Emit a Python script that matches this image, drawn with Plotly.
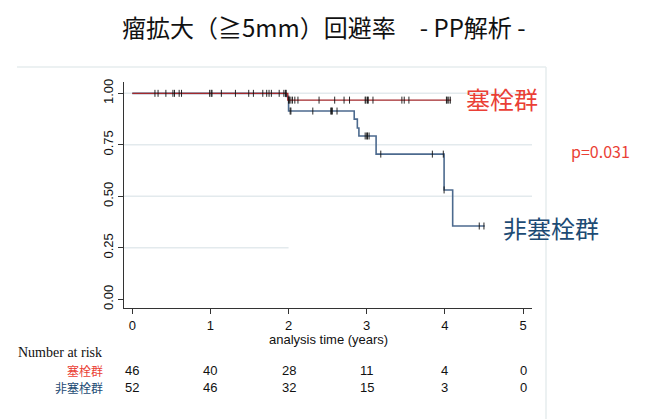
import plotly.graph_objects as go

# ---------------- data ----------------
title_text = "瘤拡大（≧5mm）回避率　- PP解析 -"
group_names = ["塞栓群", "非塞栓群"]
p_value_text = "p=0.031"

# Kaplan-Meier step points (time in years, survival)
emb_times = [0.0, 1.99, 4.08]
emb_surv = [1.0, 0.967, 0.967]

non_times = [0.0, 1.97, 2.0, 2.84, 2.88, 2.90, 3.12, 3.99, 4.10, 4.51]
non_surv = [1.0, 0.985, 0.914, 0.875, 0.832, 0.793, 0.705, 0.531, 0.356, 0.356]

# censor marks
emb_cens_t = [0.29, 0.43, 0.54, 0.63, 1.01, 1.32, 1.55, 1.72, 1.78, 1.94, 1.97,
              2.0, 2.01, 2.03, 2.05, 2.08, 2.12, 2.39, 2.59, 2.71, 2.78, 2.98,
              2.99, 3.01, 3.02, 3.08, 3.45, 3.48, 3.54, 4.02, 4.03, 4.05, 4.07]
non_cens_t = [0.33, 0.52, 0.60, 0.99, 1.02, 1.14, 1.49, 1.67, 1.75, 1.88, 1.96,
              2.02, 2.03, 2.31, 2.54, 2.55, 2.56, 2.62, 2.98, 3.00, 3.01, 3.03,
              3.18, 3.84, 3.98, 3.99, 4.44, 4.50]

x_ticks = [0, 1, 2, 3, 4, 5]
y_ticks = [0.0, 0.25, 0.5, 0.75, 1.0]
y_tick_labels = ["0.00", "0.25", "0.50", "0.75", "1.00"]
x_title = "analysis time (years)"

risk_title = "Number at risk"
risk_emb = [46, 40, 28, 11, 4, 0]
risk_non = [52, 46, 32, 15, 3, 0]

# ---------------- helpers ----------------
def surv_at(times, surv, t):
    s = surv[0]
    for ti, si in zip(times, surv):
        if ti <= t:
            s = si
    return s

W, H = 646, 419
L, R, T, B = 124, 532, 82, 308
pw, ph = R - L, B - T

def px(x):
    return (x - L) / pw

def py(y):
    return (B - y) / ph

RED_LINE = "#a3292c"
BLUE_LINE = "#4c6a8e"
RED_TXT = "#ea3f36"
BLUE_TXT = "#1d4b74"
GRID = "#e3eaed"

fig = go.Figure()

fig.add_trace(go.Scatter(x=non_times, y=non_surv, mode="lines",
                         line=dict(color=BLUE_LINE, width=1.6, shape="hv"),
                         showlegend=False, hoverinfo="skip"))
fig.add_trace(go.Scatter(x=emb_times, y=emb_surv, mode="lines",
                         line=dict(color=RED_LINE, width=1.4, shape="hv"),
                         showlegend=False, hoverinfo="skip"))

cens_marker = dict(symbol="line-ns", size=5, line=dict(color="#111", width=0.9))
fig.add_trace(go.Scatter(x=emb_cens_t, y=[surv_at(emb_times, emb_surv, t) for t in emb_cens_t],
                         mode="markers", marker=cens_marker,
                         showlegend=False, hoverinfo="skip"))
fig.add_trace(go.Scatter(x=non_cens_t, y=[surv_at(non_times, non_surv, t) for t in non_cens_t],
                         mode="markers", marker=cens_marker,
                         showlegend=False, hoverinfo="skip"))

shapes = []
# gridlines
for yv in [0.5, 0.75, 1.0]:
    shapes.append(dict(type="line", xref="paper", yref="y", x0=0, x1=1, y0=yv, y1=yv,
                       line=dict(color=GRID, width=1.5), layer="below"))
shapes.append(dict(type="line", xref="x", yref="y", x0=-0.106, x1=2.0, y0=0.25, y1=0.25,
                   line=dict(color=GRID, width=1.5), layer="below"))
# outer frame (top + right)
shapes.append(dict(type="line", xref="paper", yref="paper", x0=px(17), x1=px(546),
                   y0=py(67), y1=py(67), line=dict(color="#e6ecee", width=1.5)))
shapes.append(dict(type="line", xref="paper", yref="paper", x0=px(546), x1=px(546),
                   y0=py(67), y1=py(419), line=dict(color="#e6ecee", width=1.5)))

ann = []
ann.append(dict(text=title_text, x=px(324), y=py(26), xref="paper", yref="paper",
                showarrow=False, xanchor="center", yanchor="middle",
                font=dict(family="Noto Sans CJK JP", size=24, color="#111111")))
ann.append(dict(text=group_names[0], x=px(502), y=py(98), xref="paper", yref="paper",
                showarrow=False, xanchor="center", yanchor="middle",
                font=dict(family="Noto Sans CJK JP", size=24, color=RED_TXT)))
ann.append(dict(text=group_names[1], x=px(551), y=py(227), xref="paper", yref="paper",
                showarrow=False, xanchor="center", yanchor="middle",
                font=dict(family="Noto Sans CJK JP", size=24, color=BLUE_TXT)))
ann.append(dict(text=p_value_text, x=px(600), y=py(151), xref="paper", yref="paper",
                showarrow=False, xanchor="center", yanchor="middle",
                font=dict(family="Noto Sans CJK JP", size=16, color=RED_TXT)))
ann.append(dict(text=x_title, x=px(328), y=py(339), xref="paper", yref="paper",
                showarrow=False, xanchor="center", yanchor="middle",
                font=dict(family="Liberation Sans", size=13, color="#111111")))
ann.append(dict(text=risk_title, x=px(104), y=py(352), xref="paper", yref="paper",
                showarrow=False, xanchor="right", yanchor="middle",
                font=dict(family="Liberation Serif", size=14, color="#111111")))
ann.append(dict(text=group_names[0], x=px(105), y=py(370), xref="paper", yref="paper",
                showarrow=False, xanchor="right", yanchor="middle",
                font=dict(family="Noto Sans CJK JP", size=12, color=RED_TXT)))
ann.append(dict(text=group_names[1], x=px(105), y=py(387), xref="paper", yref="paper",
                showarrow=False, xanchor="right", yanchor="middle",
                font=dict(family="Noto Sans CJK JP", size=12, color=BLUE_TXT)))
for t, a, b in zip(x_ticks, risk_emb, risk_non):
    ann.append(dict(text=str(a), x=t, y=py(370), xref="x", yref="paper",
                    showarrow=False, xanchor="center", yanchor="middle",
                    font=dict(family="Liberation Sans", size=13, color="#111111")))
    ann.append(dict(text=str(b), x=t, y=py(387), xref="x", yref="paper",
                    showarrow=False, xanchor="center", yanchor="middle",
                    font=dict(family="Liberation Sans", size=13, color="#111111")))

fig.update_layout(
    width=W, height=H,
    margin=dict(l=L, r=W - R, t=T, b=H - B, pad=0),
    paper_bgcolor="white", plot_bgcolor="white",
    shapes=shapes, annotations=ann,
    xaxis=dict(range=[-0.106, 5.115], tickvals=x_ticks, ticks="outside", ticklen=5,
               tickwidth=1, tickcolor="#333", showline=True, linecolor="#333", linewidth=1.2,
               showgrid=False, zeroline=False,
               tickfont=dict(family="Liberation Sans", size=13, color="#111")),
    yaxis=dict(range=[-0.042, 1.055], tickvals=y_ticks, ticktext=y_tick_labels,
               tickangle=-90, ticks="outside", ticklen=5, tickwidth=1, tickcolor="#333",
               showline=True, linecolor="#333", linewidth=1.2, showgrid=False, zeroline=False,
               tickfont=dict(family="Liberation Sans", size=13, color="#111")),
)

fig.write_html("out.html", config={"displayModeBar": False},
               post_script="document.body.style.margin='0';document.body.style.padding='0';")
